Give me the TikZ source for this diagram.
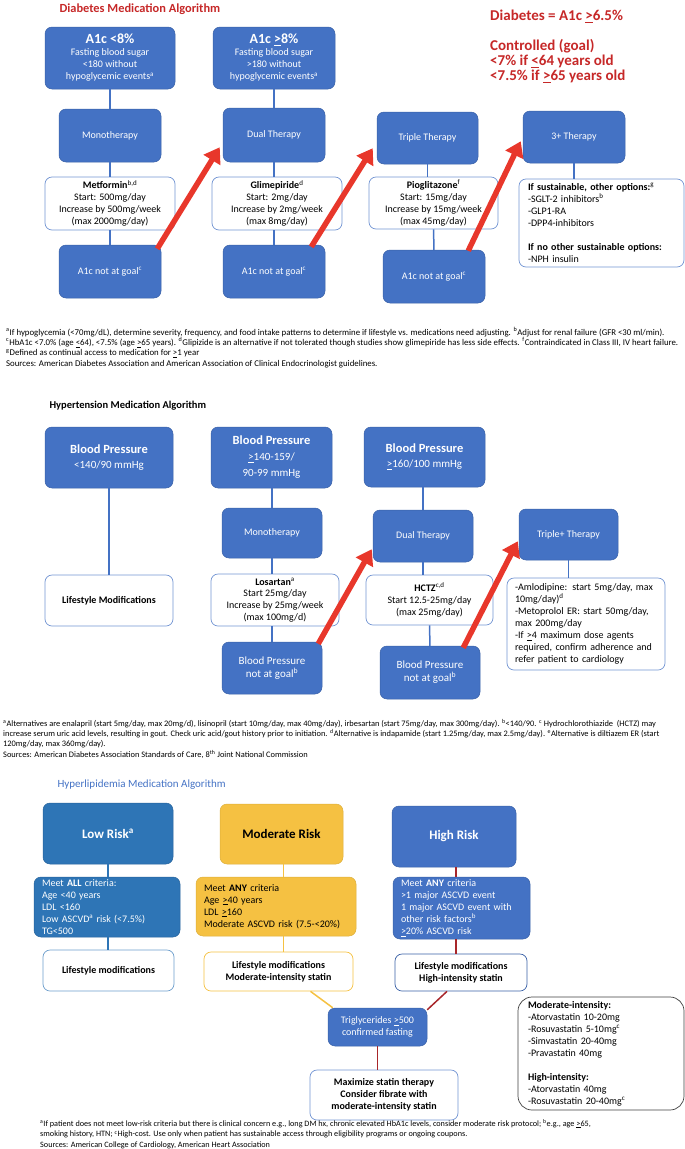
\documentclass[tikz,border=0pt]{standalone}
\usepackage{fontspec}
\setmainfont{Carlito}
\usetikzlibrary{arrows.meta}
\definecolor{algoblue}{HTML}{4472C4}
\definecolor{algodeep}{HTML}{2E75B6}
\definecolor{algogold}{HTML}{F5C142}
\definecolor{algored}{HTML}{C62828}
\definecolor{algoarrow}{HTML}{E8372B}
\definecolor{algomaroon}{HTML}{A8262A}
\newcommand{\gequ}{\underline{>}}
\newcommand{\lequ}{\underline{<}}
\newcommand{\setfs}[2]{\fontsize{#1}{#2}\selectfont}
\tikzset{
  bluebox/.style={rectangle, rounded corners=7pt, fill=algoblue, draw=algoblue!85!black, line width=0.5pt, text=white, align=center, inner sep=2pt, font=\setfs{10}{12}},
  deepbox/.style={bluebox, fill=algodeep, draw=algodeep!85!black},
  goldbox/.style={bluebox, fill=algogold, draw=algogold!90!black, text=black},
  whitebox/.style={rectangle, rounded corners=7pt, fill=white, draw=algoblue!75, line width=0.7pt, align=center, inner sep=2pt, font=\setfs{10}{12}},
  conn/.style={draw=algoblue, line width=1.5pt},
  redarrow/.style={draw=algoarrow, line width=5.5pt, -{Triangle[length=15pt,width=19pt]}},
  fnote/.style={anchor=north west, align=left, inner sep=0pt, font=\setfs{8.8}{10.3}},
}

\begin{document}
\begin{tikzpicture}[x=1pt, y=-1pt]
  \useasboundingbox (0,0) rectangle (685,1149);

  % Diabetes
  \node[anchor=west, text=algored, font=\setfs{12.4}{14}\bfseries] (dmtitle) at (56,9) {Diabetes Medication Algorithm};
  \node[anchor=north west, inner sep=0pt, align=left, text=algored, font=\setfs{15}{15}\bfseries] (dmgoal) at (490,10)
    {Diabetes = A1c \gequ 6.5\%\\[15pt] Controlled (goal)\\ <7\% if \lequ 64 years old\\ <7.5\% if \gequ 65 years old};

  \node[bluebox, minimum width=130, minimum height=62] (lowA) at (110,58)
    {{\setfs{14}{16}\bfseries A1c <8\%}\\ Fasting blood sugar\\ <180 without\\ hypoglycemic events\textsuperscript{a}};
  \node[bluebox, minimum width=122, minimum height=62] (highA) at (274,58)
    {{\setfs{14}{16}\bfseries A1c \gequ 8\%}\\ Fasting blood sugar\\ >180 without\\ hypoglycemic events\textsuperscript{a}};

  \node[bluebox, minimum width=102, minimum height=53] (monoD) at (110,135.5) {Monotherapy};
  \node[bluebox, minimum width=102, minimum height=54] (dualD) at (274,135) {Dual Therapy};
  \node[bluebox, minimum width=101, minimum height=52] (tripD) at (427.5,138) {Triple Therapy};
  \node[bluebox, minimum width=102, minimum height=52] (plusD) at (574,137) {3+ Therapy};

  \node[whitebox, minimum width=130, minimum height=53] (metD) at (110,203.5)
    {\textbf{Metformin}\textsuperscript{b,d}\\ Start: 500mg/day\\ Increase by 500mg/week\\ (max 2000mg/day)};
  \node[whitebox, minimum width=130, minimum height=53] (glimD) at (277,203.5)
    {\textbf{Glimepiride}\textsuperscript{d}\\ Start: 2mg/day\\ Increase by 2mg/week\\ (max 8mg/day)};
  \node[whitebox, minimum width=129, minimum height=52] (pioD) at (433.5,203)
    {\textbf{Pioglitazone}\textsuperscript{f}\\ Start: 15mg/day\\ Increase by 15mg/week\\ (max 45mg/day)};
  \node[whitebox, align=left, text width=147, inner xsep=9pt, minimum height=88] (optD) at (601.5,223)
    {\textbf{If sustainable, other options:}\textsuperscript{g}\\ -SGLT-2 inhibitors\textsuperscript{b}\\ -GLP1-RA\\ -DPP4-inhibitors\\[12pt] \textbf{If no other sustainable options:}\\ -NPH insulin};

  \node[bluebox, minimum width=102, minimum height=53] (goalA) at (110,271.5) {A1c not at goal\textsuperscript{c}};
  \node[bluebox, minimum width=102, minimum height=53] (goalB) at (274,271.5) {A1c not at goal\textsuperscript{c}};
  \node[bluebox, minimum width=102, minimum height=53] (goalC) at (434,276.5) {A1c not at goal\textsuperscript{c}};

  \draw[conn] (lowA) -- (monoD);
  \draw[conn] (monoD) -- (metD);
  \draw[conn] (metD) -- (goalA);
  \draw[conn] (highA) -- (dualD);
  \draw[conn] (dualD.south) -- (dualD.south |- glimD.north);
  \draw[conn] (dualD.south |- glimD.south) -- (dualD.south |- goalB.north);
  \draw[conn] (tripD.south) -- (tripD.south |- pioD.north);
  \draw[conn] (pioD) -- (goalC);
  \draw[conn] (plusD.south) -- (plusD.south |- optD.north);

  \draw[redarrow] ([xshift=-4pt,yshift=-4pt]goalA.north east) -- ([xshift=-3pt,yshift=15pt]dualD.south west);
  \draw[redarrow] ([xshift=-14pt,yshift=-2pt]goalB.north east) -- ([xshift=-4pt,yshift=16pt]tripD.south west);
  \draw[redarrow] ([xshift=-17pt,yshift=-1pt]goalC.north east) -- ([xshift=-2pt,yshift=22pt]plusD.south west);

  \node[fnote] (dmnotes) at (6,327)
    {\textsuperscript{a}If hypoglycemia (<70mg/dL), determine severity, frequency, and food intake patterns to determine if lifestyle vs. medications need adjusting. \textsuperscript{b}Adjust for renal failure (GFR <30 ml/min).\\
     \textsuperscript{c}HbA1c <7.0\% (age \lequ 64), <7.5\% (age \gequ 65 years). \textsuperscript{d}Glipizide is an alternative if not tolerated though studies show glimepiride has less side effects. \textsuperscript{f}Contraindicated in Class III, IV heart failure.\\
     \textsuperscript{g}Defined as continual access to medication for \gequ 1 year\\
     Sources: American Diabetes Association and American Association of Clinical Endocrinologist guidelines.};

  % Hypertension
  \node[anchor=west, font=\setfs{10.5}{12}\bfseries] (httitle) at (46,406) {Hypertension Medication Algorithm};

  \node[bluebox, minimum width=128, minimum height=61, font=\setfs{11}{15}] (bpA) at (109,457.5)
    {{\setfs{12.5}{15}\bfseries Blood Pressure}\\ <140/90 mmHg};
  \node[bluebox, minimum width=121, minimum height=61, font=\setfs{11}{16}] (bpB) at (271.5,457.5)
    {{\setfs{12.5}{15}\bfseries Blood Pressure}\\ \gequ 140-159/\\ 90-99 mmHg};
  \node[bluebox, minimum width=121, minimum height=60, font=\setfs{11}{15}] (bpC) at (424.5,457)
    {{\setfs{12.5}{15}\bfseries Blood Pressure}\\ \gequ 160/100 mmHg};

  \node[bluebox, minimum width=100, minimum height=50] (monoH) at (272,533) {Monotherapy};
  \node[bluebox, minimum width=100, minimum height=52] (dualH) at (423,536) {Dual Therapy};
  \node[bluebox, minimum width=99, minimum height=51] (tripH) at (568.5,534.5) {Triple+ Therapy};

  \node[whitebox, minimum width=128, minimum height=51, font=\setfs{10}{12}\bfseries] (lifeH) at (109,600.5) {Lifestyle Modifications};
  \node[whitebox, minimum width=128, minimum height=52, font=\setfs{10}{11.7}] (losH) at (275,600)
    {\textbf{Losartan}\textsuperscript{a}\\ Start 25mg/day\\ Increase by 25mg/week\\ (max 100mg/d)};
  \node[whitebox, minimum width=127, minimum height=50] (hctzH) at (429.5,600)
    {\textbf{HCTZ}\textsuperscript{c,d}\\ Start 12.5-25mg/day\\ (max 25mg/day)};
  \node[whitebox, align=left, text width=142, inner xsep=8pt, minimum height=92] (listH) at (586,624)
    {-Amlodipine: start 5mg/day, max\\ 10mg/day)\textsuperscript{d}\\ -Metoprolol ER: start 50mg/day,\\ max 200mg/day\\ -If \gequ 4 maximum dose agents\\ required, confirm adherence and\\ refer patient to cardiology};

  \node[bluebox, minimum width=100, minimum height=52, font=\setfs{11}{13}] (goalH) at (272,668) {Blood Pressure\\ not at goal\textsuperscript{b}};
  \node[bluebox, minimum width=100, minimum height=53, font=\setfs{11}{13}] (goalI) at (430,672.5) {Blood Pressure\\ not at goal\textsuperscript{b}};

  \draw[conn] (bpA) -- (lifeH);
  \draw[conn] (bpB.south -| monoH) -- (monoH);
  \draw[conn] (monoH) -- (monoH |- losH.north);
  \draw[conn] (monoH |- losH.south) -- (goalH);
  \draw[conn] (bpC.south -| dualH) -- (dualH);
  \draw[conn] (dualH.south) -- (dualH.south |- hctzH.north);
  \draw[conn] (hctzH) -- (goalI);
  \draw[conn] (tripH.south) -- (tripH.south |- listH.north);

  \draw[redarrow] ([xshift=-4pt,yshift=-2pt]goalH.north east) -- ([xshift=-1pt,yshift=13pt]dualH.south west);
  \draw[redarrow] ([xshift=-17pt,yshift=-2pt]goalI.north east) -- ([xshift=-1pt,yshift=19pt]tripH.south west);

  \node[fnote, font=\setfs{8.4}{10.3}] (htnotes) at (3,719)
    {\textsuperscript{a}Alternatives are enalapril (start 5mg/day, max 20mg/d), lisinopril (start 10mg/day, max 40mg/day), irbesartan (start 75mg/day, max 300mg/day). \textsuperscript{b}<140/90. \textsuperscript{c} Hydrochlorothiazide\ \ (HCTZ) may\\
     increase serum uric acid levels, resulting in gout. Check uric acid/gout history prior to initiation. \textsuperscript{d}Alternative is indapamide (start 1.25mg/day, max 2.5mg/day). \textsuperscript{e}Alternative is diltiazem ER (start\\
     120mg/day, max 360mg/day).\\
     Sources: American Diabetes Association Standards of Care, 8\textsuperscript{th} Joint National Commission};

  % Hyperlipidemia
  \node[anchor=west, text=algoblue, font=\setfs{11}{13}] (hltitle) at (54,785) {Hyperlipidemia Medication Algorithm};

  \node[deepbox, minimum width=130, minimum height=61, font=\setfs{13}{15}\bfseries] (lowR) at (108,833.5) {Low Risk\textsuperscript{a}};
  \node[goldbox, minimum width=123, minimum height=60, font=\setfs{13}{15}\bfseries] (modR) at (281.5,834) {Moderate Risk};
  \node[bluebox, minimum width=124, minimum height=61, font=\setfs{13}{15}\bfseries] (highR) at (454,836.5) {High Risk};

  \node[deepbox, align=left, text width=130, inner xsep=8pt, minimum height=60] (lowC) at (107,907)
    {Meet \textbf{ALL} criteria:\\ Age <40 years\\ LDL <160\\ Low ASCVD\textsuperscript{a} risk (<7.5\%)\\ TG<500};
  \node[goldbox, align=left, text width=144, inner xsep=8pt, minimum height=59] (modC) at (276,906.5)
    {Meet \textbf{ANY} criteria\\ Age \gequ 40 years\\ LDL \gequ 160\\ Moderate ASCVD risk (7.5-<20\%)};
  \node[bluebox, align=left, text width=121, inner xsep=8pt, minimum height=62] (highC) at (461.5,908)
    {Meet \textbf{ANY} criteria\\ >1 major ASCVD event\\ 1 major ASCVD event with\\ other risk factors\textsuperscript{b}\\ \gequ 20\% ASCVD risk};

  \node[whitebox, draw=algodeep!70, minimum width=131, minimum height=41, font=\setfs{10}{12}\bfseries] (lowL) at (108.5,970.5) {Lifestyle modifications};
  \node[whitebox, draw=algogold, minimum width=149, minimum height=39, font=\setfs{10}{12}\bfseries] (modL) at (278.5,971.5) {Lifestyle modifications\\ Moderate-intensity statin};
  \node[whitebox, draw=algoblue!85!black, minimum width=132, minimum height=37, font=\setfs{10}{12}\bfseries] (highL) at (461,972.5) {Lifestyle modifications\\ High-intensity statin};

  \node[bluebox, minimum width=99, minimum height=38] (trigL) at (377.5,1027) {Triglycerides \gequ 500\\ confirmed fasting};
  \node[whitebox, minimum width=148, minimum height=50, font=\setfs{10}{12}\bfseries] (maxL) at (384,1095)
    {Maximize statin therapy\\ Consider fibrate with\\ moderate-intensity statin};
  \node[whitebox, draw=black!75, rounded corners=14pt, align=left, text width=146, inner xsep=10pt, minimum height=113] (statL) at (601,1053.5)
    {\textbf{Moderate-intensity:}\\ -Atorvastatin 10-20mg\\ -Rosuvastatin 5-10mg\textsuperscript{c}\\ -Simvastatin 20-40mg\\ -Pravastatin 40mg\\[12pt] \textbf{High-intensity:}\\ -Atorvastatin 40mg\\ -Rosuvastatin 20-40mg\textsuperscript{c}};

  \draw[conn, draw=algodeep] (lowR.south) -- (lowR.south |- lowC.north);
  \draw[conn, draw=algodeep] (lowR.south |- lowC.south) -- (lowR.south |- lowL.north);
  \draw[conn, draw=algogold] ([xshift=2pt]modR.south) -- ([xshift=2pt]modR.south |- modC.north);
  \draw[conn, draw=algogold] ([xshift=2pt]modR.south |- modC.south) -- ([xshift=2pt]modR.south |- modL.north);
  \draw[conn, draw=algomaroon] ([xshift=2pt]highR.south) -- ([xshift=2pt]highR.south |- highC.north);
  \draw[conn, draw=algomaroon] ([xshift=2pt]highR.south |- highC.south) -- ([xshift=2pt]highR.south |- highL.north);
  \draw[conn, draw=algogold] ([xshift=32pt]modL.south) -- ([xshift=5pt]trigL.north west);
  \draw[conn, draw=algomaroon] ([xshift=-14pt]highL.south) -- ([yshift=-2pt]trigL.north east);
  \draw[conn, draw=algomaroon] (trigL.south) -- (trigL.south |- maxL.north);

  \node[fnote, font=\setfs{8.2}{10.8}] (hlnotes) at (40,1119)
    {\textsuperscript{a}If patient does not meet low-risk criteria but there is clinical concern e.g., long DM hx, chronic elevated HbA1c levels, consider moderate risk protocol; \textsuperscript{b}e.g., age \gequ 65,\\
     smoking history, HTN; \textsuperscript{c}High-cost. Use only when patient has sustainable access through eligibility programs or ongoing coupons.\\
     Sources: American College of Cardiology, American Heart Association};
\end{tikzpicture}
\end{document}
